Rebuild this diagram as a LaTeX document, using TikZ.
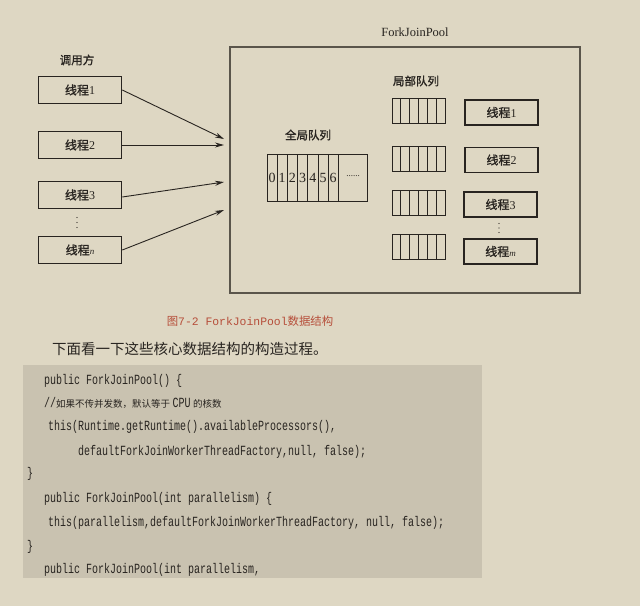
\documentclass[tikz,border=0pt]{standalone}
\usepackage{fontspec}
\usepackage{graphicx}
\setmainfont{Liberation Serif}
\setmonofont{Liberation Mono}
\newfontfamily\cjk{Noto Sans CJK SC}
\newfontfamily\cjkb[FakeBold=1.3]{Noto Sans CJK SC}
\usetikzlibrary{positioning,arrows.meta}
\definecolor{paper}{RGB}{222,215,195}
\definecolor{codebg}{RGB}{201,194,176}
\definecolor{ink}{RGB}{40,36,32}
\definecolor{frame}{RGB}{90,85,75}
\definecolor{capred}{RGB}{182,78,58}
\newcommand{\thr}[1]{{\cjkb 线程}#1}
\newcommand{\srcln}[1]{\scalebox{1}[1.4]{\ttfamily #1}}
\tikzset{
  caller/.style={draw=ink, line width=1.6pt, minimum width=83pt, minimum height=27pt, inner sep=0pt, font=\fontsize{12}{12}\selectfont},
  worker/.style={draw=ink, line width=1.6pt, minimum width=73pt, minimum height=25pt, inner sep=0pt, font=\fontsize{12}{12}\selectfont},
  lqueue/.style={draw=ink, line width=0.9pt, minimum width=53pt, minimum height=25pt, inner sep=0pt},
  title/.style={font=\cjkb\fontsize{11.5}{11.5}\selectfont, text=ink},
  code/.style={anchor=west, inner sep=0pt, text=ink, font=\fontsize{10}{10}\selectfont},
  call/.style={-{Stealth[length=9pt,width=5pt]}, line width=0.9pt, draw=ink}
}
\begin{document}
\begin{tikzpicture}[x=1pt, y=-1pt, text=ink]
  \useasboundingbox[fill=paper] (0,0) rectangle (640,606);
  % caller side
  \node[title] (callers) at (77,60) {调用方};
  \node[caller] (c1) at (80,90) {\thr{1}};
  \node[caller] (c2) at (80,145) {\thr{2}};
  \node[caller] (c3) at (80,195) {\thr{3}};
  \node[caller] (cn) at (80,250) {\thr{\textit{\fontsize{9}{9}\selectfont n}}};
  \foreach \d in {217.5,222.5,227.5}
    \fill[ink] (77,\d) circle (0.7);
  % the pool
  \node[draw=frame, line width=1.1pt, minimum width=350pt, minimum height=246pt, inner sep=0pt] (pool) at (405,170) {};
  \node[font=\fontsize{12.5}{12.5}\selectfont] (poolname) at (415,32) {ForkJoinPool};
  \coordinate (p1) at (224,139);
  \coordinate (p2) at (224,145);
  \coordinate (p3) at (224,182);
  \coordinate (p4) at (224,210);
  \draw[call] (c1.east) -- (p1);
  \draw[call] (c2.east) -- (p2);
  \draw[call] ([yshift=-2pt]c3.east) -- (p3);
  \draw[call] (cn.east) -- (p4);
  % global queue
  \node[title] (gtitle) at (308,135) {全局队列};
  \node[draw=ink, line width=0.9pt, minimum width=100pt, minimum height=47pt, inner sep=0pt] (gq) at (317,177.5) {};
  \foreach \i in {1,...,7}
    \draw[ink, line width=0.8pt] (267+10.2*\i,154) -- (267+10.2*\i,201);
  \foreach \i in {0,...,6}
    \node[font=\fontsize{14}{14}\selectfont, inner sep=0pt] (g\i) at (272+10.2*\i,178) {\i};
  \node[font=\fontsize{9}{9}\selectfont, inner sep=0pt] (gmore) at (353,176) {......};
  % local queues and workers
  \node[title] (ltitle) at (416,81) {局部队列};
  \foreach \y/\n in {111/1, 158.5/2, 202.5/3, 246.5/4} {
    \node[lqueue] (lq\n) at (418.5,\y) {};
    \foreach \k in {1,...,5}
      \draw[ink, line width=0.8pt] (392+8.83*\k,\y-12.5) -- (392+8.83*\k,\y+12.5);
  }
  \node[worker] (w1) at (501.5,112.5) {\thr{1}};
  \node[worker] (w2) at (501.5,160) {\thr{2}};
  \node[worker] (w3) at (500.5,204.5) {\thr{3}};
  \node[worker] (wm) at (500.5,251.5) {\thr{\textit{\fontsize{9}{9}\selectfont m}}};
  \foreach \d in {223.5,228,232.5}
    \fill[ink] (499,\d) circle (0.6);
  % caption and text below
  \node[text=capred, font=\fontsize{11.4}{11.4}\selectfont] (caption) at (250,321) {{\cjk 图}\texttt{7-2 ForkJoinPool}{\cjk 数据结构}};
  \node[font=\cjk\fontsize{14.5}{14.5}\selectfont, anchor=west, inner sep=0pt] (lead) at (52,349) {下面看一下这些核心数据结构的构造过程。};
  \fill[codebg] (23,365) rectangle (482,578);
  \node[code] (l1) at (44,381) {\srcln{public ForkJoinPool() \{}};
  \node[code] (l2) at (44,403) {\srcln{//}{\cjk\fontsize{9.5}{9.5}\selectfont 如果不传并发数，默认等于} \srcln{CPU} {\cjk\fontsize{9.5}{9.5}\selectfont 的核数}};
  \node[code] (l3) at (48,427) {\srcln{this(Runtime.getRuntime().availableProcessors(),}};
  \node[code] (l4) at (78,452) {\srcln{defaultForkJoinWorkerThreadFactory,null, false);}};
  \node[code] (l5) at (27,474) {\srcln{\}}};
  \node[code] (l6) at (44,499) {\srcln{public ForkJoinPool(int parallelism) \{}};
  \node[code] (l7) at (48,523) {\srcln{this(parallelism,defaultForkJoinWorkerThreadFactory, null, false);}};
  \node[code] (l8) at (27,547) {\srcln{\}}};
  \node[code] (l9) at (44,570) {\srcln{public ForkJoinPool(int parallelism,}};
\end{tikzpicture}
\end{document}
